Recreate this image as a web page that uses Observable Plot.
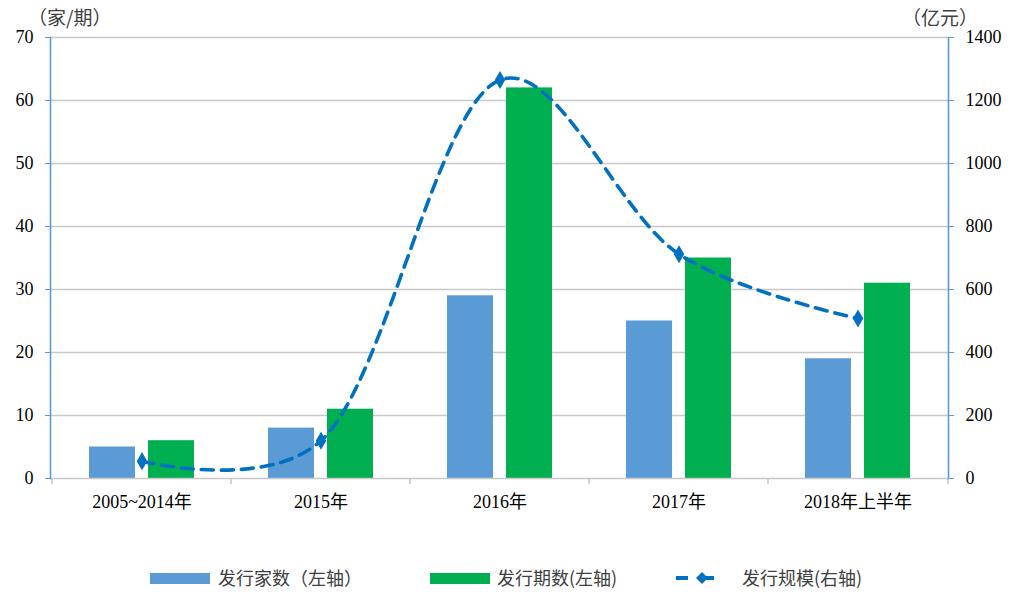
<!DOCTYPE html>
<html>
<head>
<meta charset="utf-8">
<script src="https://cdn.jsdelivr.net/npm/d3@7"></script>
<script src="https://cdn.jsdelivr.net/npm/@observablehq/plot@0.6"></script>
<style>
  html, body { margin: 0; padding: 0; background: #fff; }
  #wrap { position: relative; width: 1016px; height: 592px; overflow: hidden; }
  .t { position: absolute; font-family: "Noto Sans CJK SC", "Noto Sans", sans-serif; color: #404040; white-space: nowrap; }
  .sw { position: absolute; }
</style>
</head>
<body>
<div id="wrap">
  <div id="chart" style="position:absolute;left:0;top:0;"></div>
  <div class="t" style="left:28px;top:3px;font-size:19px;">（家/期）</div>
  <div class="t" style="left:902px;top:3px;font-size:19px;">（亿元）</div>
  <div class="sw" style="left:150px;top:573px;width:60px;height:11px;background:#5B9BD5;"></div>
  <div class="t" style="left:218px;top:564px;font-size:18px;">发行家数（左轴）</div>
  <div class="sw" style="left:430px;top:573px;width:60px;height:11px;background:#00B050;"></div>
  <div class="t" style="left:497px;top:564px;font-size:18px;">发行期数(左轴)</div>
  <svg class="sw" style="left:672px;top:568px;" width="46" height="20">
    <line x1="4" y1="10" x2="16" y2="10" stroke="#0070C0" stroke-width="4"/>
    <line x1="26" y1="10" x2="42" y2="10" stroke="#0070C0" stroke-width="4"/>
    <path d="M30,4 L24,10 L30,16 L36,10 Z" fill="#0070C0"/>
  </svg>
  <div class="t" style="left:742px;top:564px;font-size:18px;">发行规模(右轴)</div>
</div>
<script>
const categories = ["2005~2014年", "2015年", "2016年", "2017年", "2018年上半年"];
const issuers = [5, 8, 29, 25, 19];          // 发行家数（左轴）
const issues = [6, 11, 62, 35, 31];          // 发行期数（左轴）
const scaleYi = [55, 120, 1265, 712, 508];   // 发行规模（右轴, 亿元）
const leftTicks = [0, 10, 20, 30, 40, 50, 60, 70];
const rightTicks = ["0", "200", "400", "600", "800", "1000", "1200", "1400"];
const ratio = 1400 / 70;

const rows = categories.map((c, i) => ({cat: c, a: issuers[i], b: issues[i], s: scaleYi[i]}));
const blue = "#5B9BD5", green = "#00B050", lineC = "#0070C0", grid = "#C8C8C8";
const serif = "'Liberation Serif', 'Times New Roman', 'Noto Sans CJK SC', serif";

const chart = Plot.plot({
  width: 1016,
  height: 545,
  marginLeft: 50,
  marginRight: 68,
  marginTop: 37,
  marginBottom: 67,
  x: {domain: categories, padding: 0, label: null},
  y: {domain: [0, 70], label: null},
  style: {fontFamily: serif, fontSize: "18px", color: "#000", background: "#fff", overflow: "visible"},
  marks: [
    Plot.ruleY(leftTicks.filter(d => d > 0), {y: d => d, stroke: grid, strokeWidth: 1.6}),
    Plot.barY(rows, {x: "cat", y: "a", fill: blue, insetLeft: 37, insetRight: 96}),
    Plot.barY(rows, {x: "cat", y: "b", fill: green, insetLeft: 96, insetRight: 37}),
    Plot.ruleY([0], {stroke: grid, strokeWidth: 1.6}),
    Plot.ruleX(categories, {x: d => d, dx: -90, y1: 0, y2: -0.95, stroke: grid, strokeWidth: 1.6, clip: false}),
    Plot.ruleX([categories[categories.length - 1]], {x: d => d, dx: 90, y1: 0, y2: -0.95, stroke: grid, strokeWidth: 1.6, clip: false}),
    Plot.lineY(rows, {x: "cat", y: d => d.s / ratio, curve: d3.curveCatmullRom.alpha(0.2), stroke: lineC, strokeWidth: 3.6, strokeDasharray: "12,8"}),
    Plot.dot(rows, {x: "cat", y: d => d.s / ratio, symbol: "diamond", r: 5.5, fill: lineC}),
    Plot.frame({anchor: "left", stroke: blue, strokeWidth: 1.6}),
    Plot.frame({anchor: "right", stroke: blue, strokeWidth: 1.6}),
    Plot.axisY({anchor: "left", ticks: leftTicks, tickSize: 5, tickPadding: 12, stroke: blue, fill: "#000", label: null, fontFamily: serif, fontSize: 18, tickFormat: d => String(d)}),
    Plot.axisY({anchor: "right", ticks: leftTicks, tickSize: 5, tickPadding: 12, stroke: blue, fill: "#000", label: null, fontFamily: serif, fontSize: 18, tickFormat: d => rightTicks[leftTicks.indexOf(d)]}),
    Plot.axisX({anchor: "bottom", tickSize: 0, tickPadding: 17, fill: "#000", label: null, fontFamily: serif, fontSize: 18})
  ]
});
document.getElementById("chart").appendChild(chart);
</script>
</body>
</html>
